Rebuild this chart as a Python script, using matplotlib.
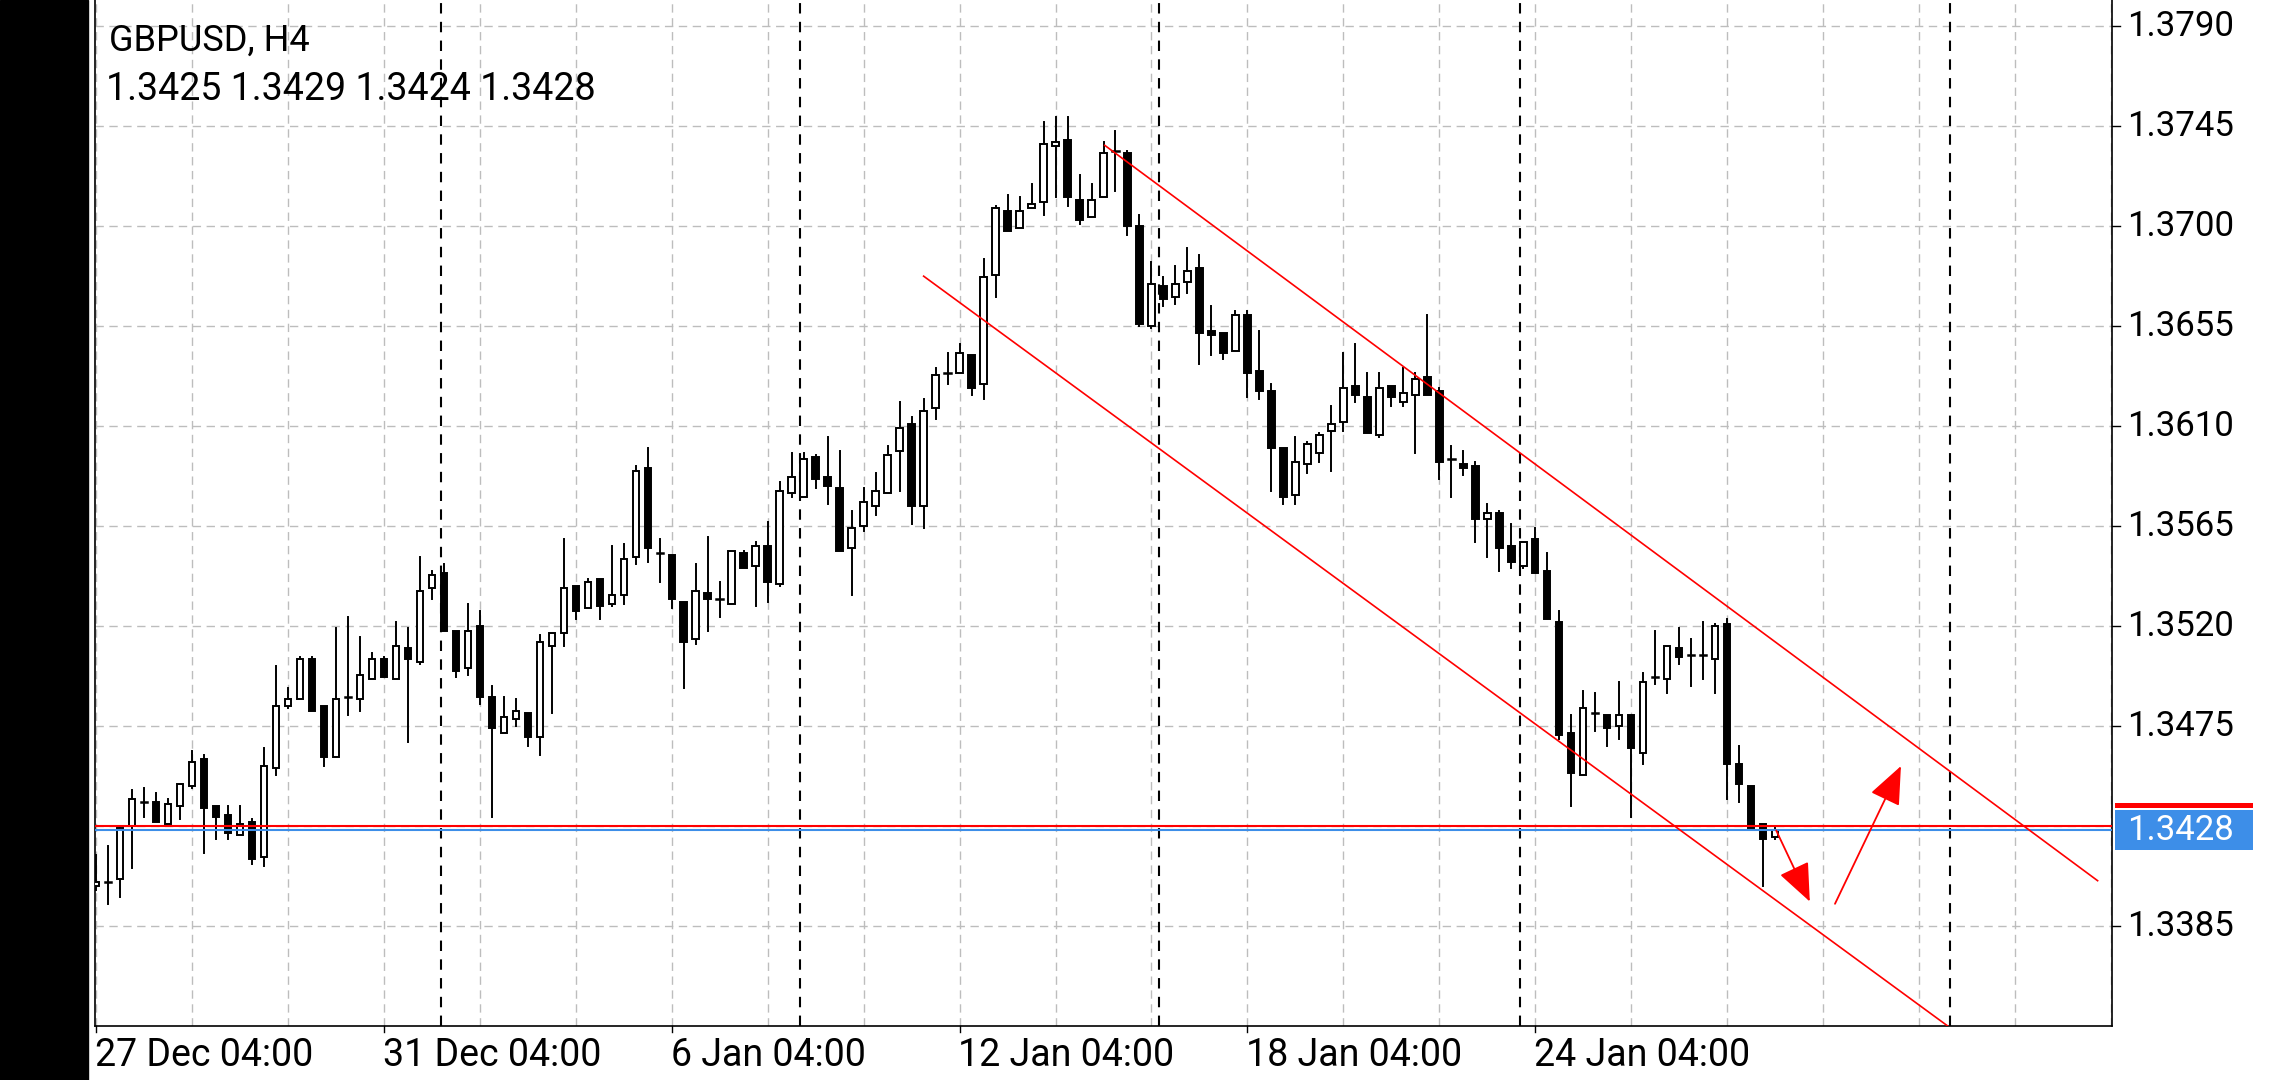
import matplotlib
matplotlib.use("Agg")
import matplotlib.pyplot as plt
from matplotlib.patches import Rectangle

plt.rcParams['font.family'] = ['Roboto', 'DejaVu Sans']

# OHLC per H4 bar
opens = [1.3403,1.3405,1.3406,1.3430,1.3441,1.3441,1.3431,1.3439,1.3448,1.3460,
         1.3439,1.3435,1.3426,1.3432,1.3416,1.3456,1.3484,1.3487,1.3505,1.3484,
         1.3461,1.3488,1.3487,1.3496,1.3505,1.3496,1.3510,1.3504,1.3537,1.3544,
         1.3518,1.3501,1.3520,1.3488,1.3472,1.3478,1.3481,1.3470,1.3511,1.3517,
         1.3538,1.3528,1.3541,1.3530,1.3534,1.3551,1.3591,1.3553,1.3552,1.3531,
         1.3514,1.3535,1.3532,1.3530,1.3553,1.3547,1.3556,1.3539,1.3580,1.3578,
         1.3596,1.3587,1.3582,1.3555,1.3565,1.3574,1.3580,1.3599,1.3611,1.3574,
         1.3618,1.3634,1.3634,1.3642,1.3629,1.3678,1.3707,1.3699,1.3708,1.3711,
         1.3736,1.3739,1.3712,1.3704,1.3713,1.3734,1.3733,1.3700,1.3655,1.3673,
         1.3668,1.3675,1.3681,1.3653,1.3652,1.3644,1.3660,1.3635,1.3626,1.3600,
         1.3579,1.3593,1.3598,1.3608,1.3612,1.3628,1.3623,1.3606,1.3628,1.3621,
         1.3624,1.3632,1.3626,1.3595,1.3593,1.3592,1.3568,1.3571,1.3556,1.3547,
         1.3559,1.3545,1.3522,1.3472,1.3453,1.3481,1.3480,1.3475,1.3480,1.3463,
         1.3497,1.3496,1.3510,1.3507,1.3507,1.3505,1.3521,1.3458,1.3448,1.3431,
         1.3425]
highs = [1.3417,1.3421,1.3430,1.3446,1.3447,1.3445,1.3442,1.3449,1.3464,1.3462,
         1.3439,1.3439,1.3439,1.3433,1.3465,1.3502,1.3492,1.3506,1.3506,1.3484,
         1.3519,1.3524,1.3515,1.3508,1.3506,1.3522,1.3519,1.3551,1.3545,1.3548,
         1.3518,1.3530,1.3527,1.3493,1.3488,1.3487,1.3481,1.3516,1.3517,1.3559,
         1.3538,1.3541,1.3541,1.3556,1.3557,1.3592,1.3600,1.3559,1.3552,1.3531,
         1.3548,1.3560,1.3540,1.3554,1.3554,1.3558,1.3567,1.3585,1.3598,1.3598,
         1.3597,1.3605,1.3599,1.3572,1.3582,1.3589,1.3601,1.3621,1.3614,1.3622,
         1.3636,1.3643,1.3647,1.3642,1.3685,1.3709,1.3714,1.3713,1.3719,1.3747,
         1.3749,1.3749,1.3723,1.3719,1.3738,1.3743,1.3734,1.3705,1.3684,1.3677,
         1.3682,1.3690,1.3687,1.3664,1.3652,1.3662,1.3662,1.3653,1.3629,1.3600,
         1.3605,1.3603,1.3607,1.3619,1.3643,1.3647,1.3634,1.3634,1.3628,1.3636,
         1.3634,1.3660,1.3627,1.3601,1.3599,1.3594,1.3575,1.3572,1.3566,1.3558,
         1.3564,1.3553,1.3527,1.3480,1.3491,1.3490,1.3480,1.3495,1.3480,1.3499,
         1.3518,1.3511,1.3519,1.3514,1.3522,1.3521,1.3523,1.3466,1.3448,1.3431,
         1.3429]
lows = [1.3401,1.3395,1.3398,1.3411,1.3434,1.3432,1.3431,1.3433,1.3447,1.3418,
        1.3424,1.3424,1.3426,1.3413,1.3412,1.3453,1.3483,1.3487,1.3482,1.3457,
        1.3461,1.3480,1.3482,1.3496,1.3497,1.3496,1.3468,1.3503,1.3532,1.3518,
        1.3497,1.3498,1.3485,1.3434,1.3472,1.3475,1.3466,1.3462,1.3481,1.3511,
        1.3523,1.3528,1.3523,1.3529,1.3530,1.3548,1.3549,1.3540,1.3528,1.3492,
        1.3512,1.3518,1.3524,1.3530,1.3546,1.3529,1.3531,1.3538,1.3578,1.3578,
        1.3582,1.3575,1.3554,1.3534,1.3563,1.3570,1.3580,1.3581,1.3566,1.3564,
        1.3613,1.3629,1.3634,1.3624,1.3622,1.3668,1.3698,1.3699,1.3708,1.3705,
        1.3713,1.3709,1.3701,1.3704,1.3713,1.3716,1.3696,1.3655,1.3654,1.3664,
        1.3665,1.3670,1.3638,1.3642,1.3640,1.3644,1.3623,1.3622,1.3581,1.3575,
        1.3575,1.3589,1.3594,1.3590,1.3608,1.3621,1.3607,1.3605,1.3619,1.3619,
        1.3598,1.3624,1.3586,1.3578,1.3588,1.3558,1.3551,1.3545,1.3546,1.3546,
        1.3544,1.3523,1.3469,1.3439,1.3453,1.3473,1.3466,1.3469,1.3434,1.3458,
        1.3494,1.3490,1.3503,1.3493,1.3496,1.3490,1.3442,1.3441,1.3429,1.3403,
        1.3424]
closes = [1.3405,1.3405,1.3429,1.3442,1.3441,1.3432,1.3440,1.3449,1.3459,1.3438,
          1.3434,1.3427,1.3431,1.3415,1.3457,1.3484,1.3487,1.3505,1.3482,1.3461,
          1.3487,1.3488,1.3498,1.3505,1.3497,1.3511,1.3505,1.3536,1.3543,1.3518,
          1.3500,1.3518,1.3488,1.3474,1.3479,1.3482,1.3470,1.3513,1.3517,1.3537,
          1.3527,1.3540,1.3529,1.3534,1.3550,1.3590,1.3555,1.3553,1.3532,1.3513,
          1.3536,1.3532,1.3532,1.3554,1.3546,1.3556,1.3540,1.3581,1.3587,1.3595,
          1.3586,1.3583,1.3554,1.3564,1.3576,1.3581,1.3597,1.3609,1.3574,1.3617,
          1.3633,1.3634,1.3643,1.3627,1.3677,1.3708,1.3698,1.3707,1.3710,1.3737,
          1.3738,1.3713,1.3703,1.3712,1.3733,1.3734,1.3700,1.3656,1.3674,1.3667,
          1.3674,1.3680,1.3652,1.3651,1.3643,1.3660,1.3634,1.3626,1.3600,1.3578,
          1.3594,1.3602,1.3606,1.3611,1.3627,1.3624,1.3607,1.3627,1.3623,1.3625,
          1.3631,1.3624,1.3594,1.3595,1.3591,1.3568,1.3571,1.3555,1.3549,1.3558,
          1.3544,1.3523,1.3471,1.3454,1.3483,1.3481,1.3474,1.3480,1.3465,1.3495,
          1.3497,1.3511,1.3506,1.3507,1.3507,1.3520,1.3458,1.3449,1.3429,1.3424,
          1.3428]

symbol_text = "GBPUSD, H4"
ohlc_text = "1.3425 1.3429 1.3424 1.3428"
price_ticks = [1.3790, 1.3745, 1.3700, 1.3655, 1.3610, 1.3565, 1.3520, 1.3475, 1.3385]
date_labels = ["27 Dec 04:00", "31 Dec 04:00", "6 Jan 04:00", "12 Jan 04:00", "18 Jan 04:00", "24 Jan 04:00"]
date_bars = [0, 24, 48, 72, 96, 120]
week_seps = [28.75, 58.7, 88.6, 118.7, 154.6]
bid = 1.3428
ask = 1.3430
upper_chan = ([84.1, 166.9], [1.37364, 1.34054])
lower_chan = ([69.0, 154.4], [1.36775, 1.33400])
arrow_down = ((140.1, 1.3428), (142.9, 1.3396))
arrow_up = ((145.0, 1.3395), (150.5, 1.3457))

W, H = 2280, 1080
fig = plt.figure(figsize=(W/100, H/100), dpi=100)
fig.patches.append(Rectangle((0, 0), 88/W, 1, transform=fig.transFigure, color='black', zorder=0))
ax = fig.add_axes([95/W, 1 - 1026/H, (2112-95)/W, 1026/H])
ax.set_xlim(-0.1, 168.1)
ax.set_ylim(1.3340, 1.38018)

for i in range(0, 169, 8):
    ax.axvline(i, color='#bdbdbd', lw=1.0, ls=(0, (6, 4)), zorder=1)
for p in price_ticks + [1.3430]:
    ax.axhline(p, color='#bdbdbd', lw=1.0, ls=(0, (6, 4)), zorder=1)
for s in week_seps:
    ax.axvline(s, color='black', lw=1.5, ls=(0, (5, 4)), zorder=2)

bw = 0.55
for i, (o, h, l, c) in enumerate(zip(opens, highs, lows, closes)):
    top, bot = max(o, c), min(o, c)
    if top - bot < 0.00004:
        ax.plot([i, i], [l, h], color='black', lw=1.4, zorder=3)
        ax.plot([i - bw/2, i + bw/2], [c, c], color='black', lw=1.8, zorder=4)
        continue
    ax.plot([i, i], [top, h], color='black', lw=1.4, zorder=3)
    ax.plot([i, i], [l, bot], color='black', lw=1.4, zorder=3)
    fc = 'white' if c > o else 'black'
    ax.add_patch(Rectangle((i - bw/2, bot), bw, top - bot, facecolor=fc, edgecolor='black', lw=1.4, zorder=4))

ax.axhline(ask, color='#ff0000', lw=1.5, zorder=5)
ax.axhline(bid, color='#3d8ee8', lw=1.5, zorder=5)
ax.plot(*upper_chan, color='#ff0000', lw=1.2, zorder=5)
ax.plot(*lower_chan, color='#ff0000', lw=1.2, zorder=5)
for (s, e) in (arrow_down, arrow_up):
    ax.annotate('', xy=e, xytext=s,
                arrowprops=dict(arrowstyle='-|>,head_length=2.4,head_width=1.0', color='#ff0000', lw=1.3,
                                shrinkA=0, shrinkB=0), zorder=6)

ax.spines['top'].set_visible(False)
for sp in ['left', 'right', 'bottom']:
    ax.spines[sp].set_color('black'); ax.spines[sp].set_linewidth(1.2)
ax.set_xticks([]); ax.set_yticks([])

ytr = ax.get_yaxis_transform()
for p in price_ticks:
    ax.text(1.0075, p, f"{p:.4f}", transform=ytr, va='center', ha='left', fontsize=25, color='black')
    ax.plot([1.0, 1.004], [p, p], transform=ytr, color='black', lw=1, clip_on=False)
fig.patches.append(Rectangle((2115/W, 1 - 850/H), 138/W, 40/H, transform=fig.transFigure,
                             facecolor='#3d8ee8', edgecolor='none', zorder=7))
fig.patches.append(Rectangle((2115/W, 1 - 808/H), 138/W, 5/H, transform=fig.transFigure,
                             facecolor='#ff0000', edgecolor='none', zorder=7))
fig.text(2127/W, 1 - 831/H, f"{bid:.4f}", va='center', ha='left', fontsize=25, color='white', zorder=8)

for b, lab in zip(date_bars, date_labels):
    ax.text(b - 0.1, -0.011, lab, transform=ax.get_xaxis_transform(), va='top', ha='left',
            fontsize=27, color='black')
    ax.plot([b, b], [0, -0.006], transform=ax.get_xaxis_transform(), color='black', lw=1, clip_on=False)

fig.text(109/W, 1 - 41/H, symbol_text, fontsize=26, va='center', ha='left')
fig.text(106/W, 1 - 89/H, ohlc_text, fontsize=27, va='center', ha='left')

fig.savefig("out.png", dpi=100, facecolor='white')
